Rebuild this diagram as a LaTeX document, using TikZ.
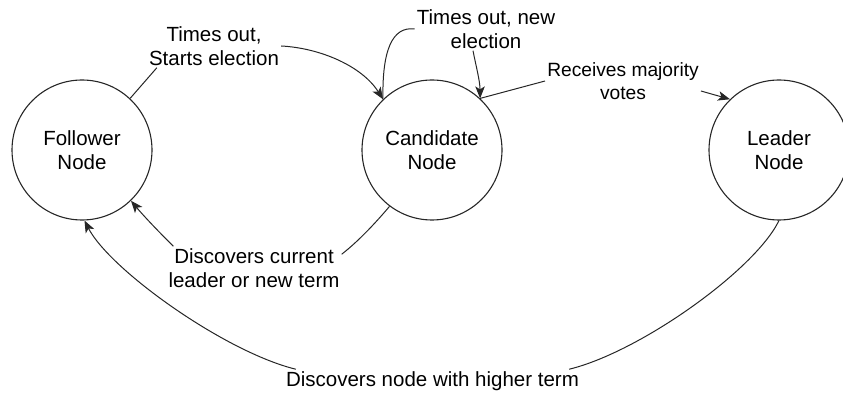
\documentclass[tikz,border=0pt]{standalone}
\usepackage{fontspec}
\setmainfont{Liberation Sans}
\usetikzlibrary{arrows.meta}
\newcommand\diagfont{\fontsize{20.5}{24}\selectfont}
\newcommand\smalldiagfont{\fontsize{19.2}{22.5}\selectfont}
\begin{document}
\begin{tikzpicture}[x=1pt,y=1pt,
  state/.style={circle, draw=black!85, line width=1.1pt, minimum size=140pt,
                inner sep=0pt, align=center, font=\diagfont},
  lbl/.style={align=center, inner sep=2pt, font=\diagfont},
  link/.style={draw=black!85, line width=1pt},
  arr/.style={link, -{Stealth[length=12pt,width=9.5pt,inset=3pt]}}]
\useasboundingbox (0,0) rectangle (843,396);

% states
\node[state] (follower)  at (82,246)  {Follower\\Node};
\node[state] (candidate) at (432,246) {Candidate\\Node};
\node[state] (leader)    at (779,246) {Leader\\Node};

% transition labels
\node[lbl] (l1) at (214,350)   {Times out,\\Starts election};
\node[lbl] (l2) at (486,367)   {Times out, new\\election};
\node[lbl, font=\smalldiagfont] (l3) at (623,315) {Receives majority\\votes};
\node[lbl] (l4) at (254,128)   {Discovers current\\leader or new term};
\node[lbl] (l5) at (432.5,15)  {Discovers node with higher term};

% follower -> candidate
\draw[link] (follower.47) -- ([xshift=10pt]l1.south west);
\draw[arr] (l1.east) .. controls (320,348) and (362,330) .. (candidate.134);

% candidate -> candidate
\draw[link] (candidate.134) .. controls (382,345) and (392,370) .. (l2.west);
\draw[arr] ([xshift=-13pt]l2.south) .. controls (476,330) and (480,315) .. (candidate.47);

% candidate -> leader
\draw[link] (candidate.47) -- (l3.west);
\draw[arr] ([yshift=-10pt]l3.east) -- (leader.134);

% candidate -> follower
\draw[link] (candidate.233) .. controls (378,176) and (360,156) .. ([yshift=-8pt]l4.north east);
\draw[arr] ([xshift=7pt]l4.north west) .. controls (155,168) and (142,182) .. (follower.314);

% leader -> follower
\draw[link] (leader.270) .. controls (755,126) and (640,44) .. ([xshift=-12pt]l5.north east);
\draw[arr] ([xshift=12pt]l5.north west) .. controls (225,44) and (110,126) .. (follower.272);
\end{tikzpicture}
\end{document}
